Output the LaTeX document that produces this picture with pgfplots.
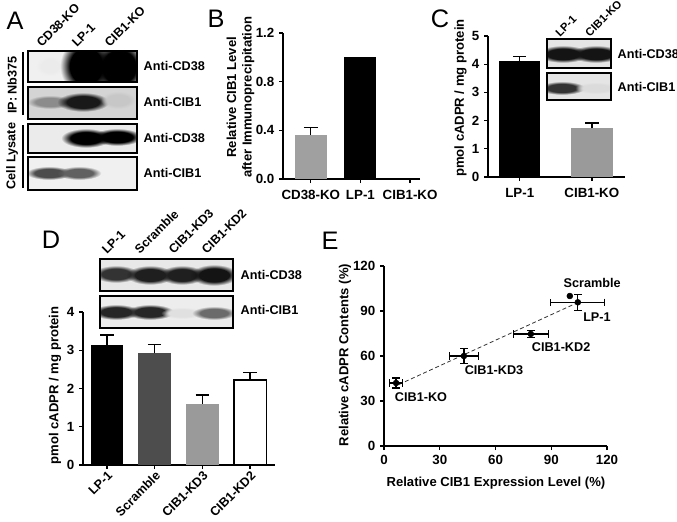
\documentclass[border=0pt]{standalone}
\usepackage{fontspec}
\setmainfont{Liberation Sans}
\usepackage{pgfplots}
\pgfplotsset{compat=1.18}
\usetikzlibrary{fadings}
\definecolor{gB}{HTML}{A0A0A0}
\definecolor{gD}{HTML}{4D4D4D}
\definecolor{gK}{HTML}{9A9A9A}
\pgfdeclareradialshading{bandsh}{\pgfpointorigin}{color(0bp)=(white); color(15bp)=(white); color(24bp)=(black); color(50bp)=(black)}
\pgfdeclarefading{bandfade}{\pgfuseshading{bandsh}}
% band: cx cy rx ry intensity
\newcommand{\band}[5]{\fill[black!#5, path fading=bandfade] (#1,#2) ellipse [x radius=#3, y radius=#4];}
% blot: x1 y1 x2 y2 bg bands
\newcommand{\blot}[6]{\begin{scope}\clip (#1,#2) rectangle (#3,#4);
  \fill[black!#5] (#1,#2) rectangle (#3,#4); #6 \end{scope}
  \draw[line width=0.8pt] (#1,#2) rectangle (#3,#4);}
\pgfplotsset{prism/.style={
  scale only axis, anchor=south west,
  axis lines=left, axis line style={-, line width=1pt},
  tick align=outside, major tick length=3pt,
  tick style={line width=1pt, black},
  tick label style={font=\bfseries\fontsize{10}{12}\selectfont},
  label style={font=\bfseries\fontsize{9.8}{11.5}\selectfont},
  /pgf/number format/assume math mode=true,
  error bars/error bar style={line width=1pt},
  error bars/error mark options={rotate=90, line width=1pt, mark size=5pt},
}}
\begin{document}
\begin{tikzpicture}[x=0.75pt,y=-0.75pt,font=\bfseries\fontsize{9.5}{11}\selectfont]
\useasboundingbox (0,0) rectangle (677,521);
\coordinate (Bsw) at (283,179);
\coordinate (Csw) at (488,177);
\coordinate (Dsw) at (83,465);
\coordinate (Esw) at (384,446);

% ---------------- Panel B
\begin{axis}[prism, at={(Bsw)}, width=102.75pt, height=109.5pt,
  xmin=-0.56, xmax=2.2, ymin=0, ymax=1.2,
  ytick={0,0.4,0.8,1.2},
  yticklabel style={/pgf/number format/.cd, fixed, fixed zerofill, precision=1},
  xtick={0,1,2}, xticklabels={CD38-KO,LP-1,CIB1-KO},
  xticklabel style={yshift=-2pt},
  ylabel={Relative CIB1 Level\\after Immunoprecipitation},
  ylabel style={align=center, at={(axis description cs:-0.31,0.56)}, anchor=center},
  ybar, bar width=24pt]
\addplot[bar shift=0pt, fill=gB, draw=none,
  error bars/.cd, y dir=plus, y explicit, error mark options={rotate=90, line width=1pt, mark size=5.2pt}]
  coordinates {(0,0.36) +- (0,0.065)};
\addplot[bar shift=0pt, fill=black, draw=none] coordinates {(1,1.0)};
\addplot[bar shift=0pt, fill=black, draw=none] coordinates {(2,0)};
\end{axis}

% ---------------- Panel C
\begin{axis}[prism, at={(Csw)}, width=102.75pt, height=105.75pt,
  xmin=-0.44, xmax=1.46, ymin=0, ymax=5,
  ytick={0,1,2,3,4,5},
  xtick={0,1}, xticklabels={LP-1,CIB1-KO},
  xticklabel style={yshift=-2pt},
  ylabel={pmol cADPR / mg protein},
  ylabel style={at={(axis description cs:-0.2,0.56)}, anchor=center},
  ybar, bar width=31pt]
\addplot[bar shift=0pt, fill=black, draw=none,
  error bars/.cd, y dir=plus, y explicit]
  coordinates {(0,4.12) +- (0,0.15)};
\addplot[bar shift=0pt, fill=gK, draw=none,
  error bars/.cd, y dir=plus, y explicit]
  coordinates {(1,1.73) +- (0,0.19)};
\end{axis}

% ---------------- Panel D
\begin{axis}[prism, at={(Dsw)}, width=144pt, height=114.75pt,
  xmin=-0.5, xmax=3.52, ymin=0, ymax=4,
  ytick={0,1,2,3,4},
  xtick={0,1,2,3}, xticklabels={LP-1,Scramble,CIB1-KD3,CIB1-KD2},
  xticklabel style={rotate=45, anchor=north east, inner sep=0.5pt, font=\bfseries\fontsize{9.5}{11}\selectfont},
  ylabel={pmol cADPR / mg protein},
  ylabel style={at={(axis description cs:-0.146,0.52)}, anchor=center},
  ybar, bar width=24.5pt]
\addplot[bar shift=0pt, fill=black, draw=none,
  error bars/.cd, y dir=plus, y explicit]
  coordinates {(0,3.15) +- (0,0.25)};
\addplot[bar shift=0pt, fill=gD, draw=none,
  error bars/.cd, y dir=plus, y explicit]
  coordinates {(1,2.92) +- (0,0.23)};
\addplot[bar shift=0pt, fill=gK, draw=none,
  error bars/.cd, y dir=plus, y explicit]
  coordinates {(2,1.60) +- (0,0.23)};
\addplot[bar shift=0pt, fill=white, draw=black, line width=1.1pt,
  error bars/.cd, y dir=plus, y explicit]
  coordinates {(3,2.22) +- (0,0.20)};
\end{axis}

% ---------------- Panel E
\begin{axis}[prism, at={(Esw)}, width=167.25pt, height=135pt,
  xmin=0, xmax=120, ymin=0, ymax=120, clip=false,
  xtick={0,30,60,90,120}, ytick={0,30,60,90,120},
  xlabel={Relative CIB1 Expression Level (\%)},
  ylabel={Relative cADPR Contents (\%)},
  xlabel style={at={(axis description cs:0.502,-0.205)}, anchor=center},
  ylabel style={at={(axis description cs:-0.175,0.505)}, anchor=center}]
\addplot[densely dashed, line width=0.6pt, black!80] coordinates {(8,41) (104,95.5)};
\addplot[only marks, mark=*, black, mark size=2.2pt,
  error bars/.cd, x dir=both, x explicit, y dir=both, y explicit,
  error bar style={line width=0.9pt},
  error mark options={rotate=90, line width=0.9pt, mark size=2.8pt}]
  coordinates {
  (6.5,42) +- (3.6,3.3)
  (43,60) +- (7.9,5)
  (79,74.7) +- (9.3,2.2)
  (104.3,95.8) +- (14.5,5.2)
  };
\addplot[only marks, mark=*, black, mark size=2.2pt] coordinates {(100,100)};
\node at (axis cs:112,108.7) {Scramble};
\node at (axis cs:114.6,86) {LP-1};
\node at (axis cs:95.3,66) {CIB1-KD2};
\node at (axis cs:59.2,50.7) {CIB1-KD3};
\node at (axis cs:19.9,32.7) {CIB1-KO};
\end{axis}

% ---------------- panel letters
\begin{scope}[font=\mdseries\fontsize{19}{20}\selectfont]
\node at (15,21) {A};
\node at (216,19) {B};
\node at (440,19) {C};
\node at (51,240) {D};
\node at (330,241) {E};
\end{scope}

% ---------------- Panel A blots
\begin{scope}[font=\bfseries\fontsize{9.3}{10}\selectfont]
\node[rotate=45, anchor=south west, inner sep=0.5pt] at (42,49) {CD38-KO};
\node[rotate=45, anchor=south west, inner sep=0.5pt] at (77,49) {LP-1};
\node[rotate=45, anchor=south west, inner sep=0.5pt] at (110,49) {CIB1-KO};
\end{scope}
\blot{28}{51}{137}{82}{6}{\band{50}{66}{14}{10}{8}\band{86}{66}{27}{30}{100}\band{119}{67}{28}{28}{100}}
\blot{28}{87}{137}{119}{17}{\band{50}{102}{24}{7}{45}\band{83}{102}{27}{10}{90}\band{118}{100}{18}{9}{22}}
\blot{28}{124}{137}{153}{8}{\band{86}{138}{26}{10}{100}\band{117}{137}{26}{9}{100}}
\blot{28}{157}{137}{190}{6}{\band{49}{173}{24}{7}{70}\band{79}{173}{23}{7}{62}}
\node[anchor=west] at (139,66) {Anti-CD38};
\node[anchor=west] at (139,102) {Anti-CIB1};
\node[anchor=west] at (139,138) {Anti-CD38};
\node[anchor=west] at (139,173) {Anti-CIB1};
\node[rotate=90] at (12,85) {IP: Nb375};
\node[rotate=90] at (12,156) {Cell Lysate};
\draw[line width=0.8pt] (23,52) -- (23,115);
\draw[line width=0.8pt] (23,125) -- (23,188);

% ---------------- Panel C inset
\begin{scope}[font=\bfseries\fontsize{8.4}{10}\selectfont]
\node[rotate=45, anchor=south west, inner sep=0.5pt] at (560,39) {LP-1};
\node[rotate=45, anchor=south west, inner sep=0.5pt] at (590,39) {CIB1-KO};
\end{scope}
\blot{547}{39}{611}{68}{10}{\band{563}{54}{27}{9}{92}\band{596}{54}{27}{9}{92}}
\blot{547}{73}{611}{100}{10}{\band{562}{88}{24}{7}{80}\band{596}{88}{22}{6}{14}}
\node[anchor=west] at (613,54) {Anti-CD38};
\node[anchor=west] at (613,87) {Anti-CIB1};

% ---------------- Panel D blots
\begin{scope}[font=\bfseries\fontsize{9.3}{10}\selectfont]
\node[rotate=45, anchor=south west, inner sep=0.5pt] at (107,256) {LP-1};
\node[rotate=45, anchor=south west, inner sep=0.5pt] at (140,256) {Scramble};
\node[rotate=45, anchor=south west, inner sep=0.5pt] at (174,256) {CIB1-KD3};
\node[rotate=45, anchor=south west, inner sep=0.5pt] at (207,256) {CIB1-KD2};
\end{scope}
\blot{100}{259}{233}{291}{9}{\band{116}{274}{24}{9}{80}\band{150}{275}{25}{10}{88}\band{182}{275}{24}{10}{88}\band{214}{275}{25}{11}{92}}
\blot{100}{296}{233}{328}{7}{\band{116}{312}{25}{8}{85}\band{150}{312}{25}{8}{85}\band{182}{313}{22}{6}{12}\band{214}{313}{23}{7}{58}}
\node[anchor=west] at (236,275) {Anti-CD38};
\node[anchor=west] at (236,310) {Anti-CIB1};
\end{tikzpicture}
\end{document}
